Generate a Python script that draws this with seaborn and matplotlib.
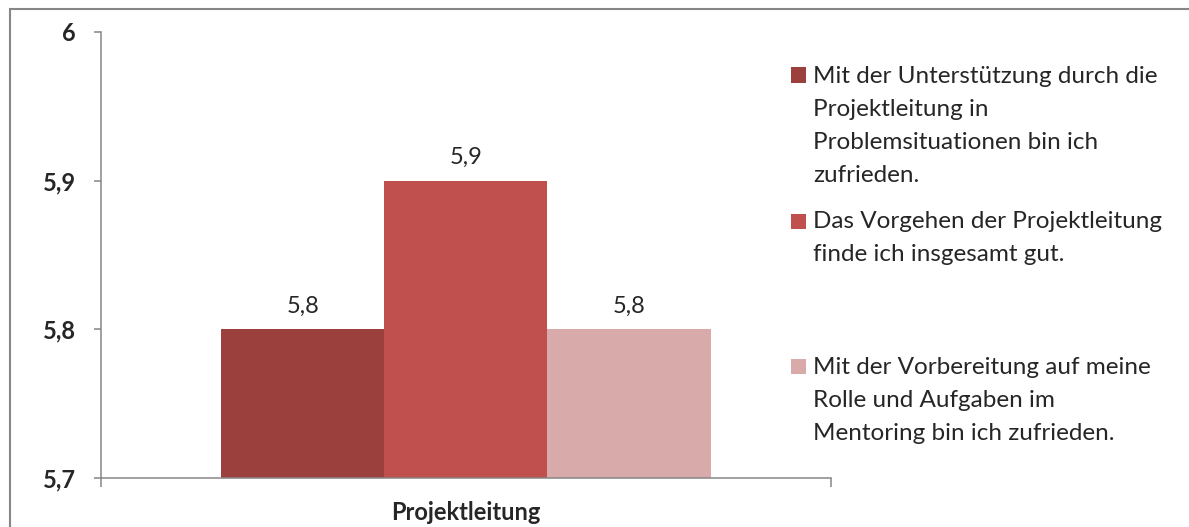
import matplotlib.pyplot as plt
from matplotlib.patches import Rectangle
import seaborn as sns
import pandas as pd

# Data
category = ["Projektleitung"]
statements = [
    "Mit der Unterstützung durch die\nProjektleitung in\nProblemsituationen bin ich\nzufrieden.",
    "Das Vorgehen der Projektleitung\nfinde ich insgesamt gut.",
    "Mit der Vorbereitung auf meine\nRolle und Aufgaben im\nMentoring bin ich zufrieden.",
]
values = [5.8, 5.9, 5.8]
bar_colors = ["#9C403E", "#C0504D", "#D9AAAA"]
y_ticks = [5.7, 5.8, 5.9, 6.0]

df = pd.DataFrame({"Bereich": category * len(values), "Aussage": statements, "Wert": values})

gray = "#868686"

# Plot properties
sns.set_style("white")
plt.rcParams["font.family"] = ["Lato", "DejaVu Sans"]

fig, ax = plt.subplots(figsize=(11.89, 5.27), dpi=100)
ax.set_position([0.0849, 0.093, 0.614, 0.8463])

# Plotting
sns.barplot(df, x="Bereich", y="Wert", hue="Aussage", palette=bar_colors,
            width=0.67, saturation=1, errorbar=None, legend=False,
            linewidth=0, ax=ax)

# Value labels
for cont, v in zip(ax.containers, values):
    ax.bar_label(cont, labels=[f"{v:.1f}".replace(".", ",")], padding=9, fontsize=17)

# Axes
ax.set_ylim(5.7, 6.0)
ax.set_xlim(-0.5, 0.5)
ax.set_yticks(y_ticks, labels=[f"{t:g}".replace(".", ",") for t in y_ticks],
              fontweight="bold", fontsize=17)
ax.set_xticks([0], labels=category, fontweight="bold", fontsize=17)
ax.set_xticks([-0.5, 0.5], minor=True)
ax.set_xlabel("")
ax.set_ylabel("")

ax.tick_params(axis="y", left=True, length=5, width=1.1, color=gray, pad=13)
ax.tick_params(axis="x", which="major", bottom=False, pad=13)
ax.tick_params(axis="x", which="minor", bottom=True, length=6.5, width=1.1, color=gray)

for side in ["top", "right"]:
    ax.spines[side].set_visible(False)
for side in ["left", "bottom"]:
    ax.spines[side].set_color(gray)
    ax.spines[side].set_linewidth(1.1)

# Legend: one entry per block, handle next to the first line
legend_tops = [0.875, 0.599, 0.323]
for i, top in enumerate(legend_tops):
    leg = fig.legend(handles=[ax.containers[i].patches[0]], labels=[statements[i]],
                     loc="upper left", bbox_to_anchor=(0.6653, top), frameon=False,
                     fontsize=17.5, handlelength=0.62, handleheight=0.62,
                     handletextpad=0.3, borderpad=0, borderaxespad=0)
    leg.get_texts()[0].set_linespacing(1.7)
    nlines = statements[i].count("\n") + 1
    h = leg.legend_handles[0]
    h.set_y(h.get_y() + (nlines - 1) / 2 * 24.2)

# Chart frame
fig.add_artist(Rectangle((9.5 / 1189, -0.05), 1.1, 1 - 8.5 / 527 + 0.05,
                         transform=fig.transFigure, fill=False, edgecolor=gray, lw=1.5))

fig.savefig("out.png", dpi=100)
